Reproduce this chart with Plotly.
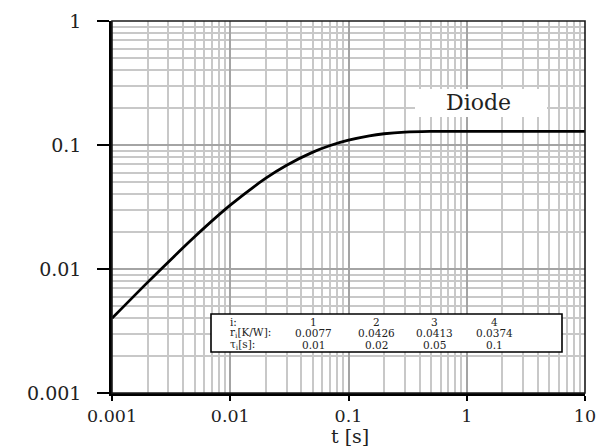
import plotly.graph_objects as go

# Curve
t_vals = [0.001, 0.002, 0.003, 0.005, 0.01, 0.02, 0.03, 0.05, 0.07, 0.1, 0.15, 0.2, 0.3, 0.5, 1, 2, 5, 10]
z_vals = [0.0040, 0.0078, 0.0114, 0.0182, 0.0327, 0.054, 0.0687, 0.0876, 0.099, 0.1093, 0.1186, 0.1232, 0.127, 0.1286, 0.129, 0.129, 0.129, 0.129]

# Table contents
idx = ["1", "2", "3", "4"]
r_vals = ["0.0077", "0.0426", "0.0413", "0.0374"]
tau_vals = ["0.01", "0.02", "0.05", "0.1"]

x_ticks = [0.001, 0.01, 0.1, 1, 10]
x_labels = ["0.001", "0.01", "0.1", "1", "10"]
y_ticks = [0.001, 0.01, 0.1, 1]
y_labels = ["0.001", "0.01", "0.1", "1"]

SERIF = "DejaVu Serif, Liberation Serif, serif"
TXT = "#222"

fig = go.Figure()
fig.add_trace(go.Scatter(x=t_vals, y=z_vals, mode="lines",
                         line=dict(color="black", width=2.8, shape="spline"),
                         showlegend=False, hoverinfo="skip"))

def axis_common(ticklen, fsize):
    return dict(
        type="log", showline=True, linecolor="black", linewidth=2.5, mirror=False,
        ticks="outside", ticklen=ticklen, tickwidth=2, tickcolor="black",
        showgrid=True, gridcolor="#a4a4a4", gridwidth=1.6,
        minor=dict(showgrid=True, gridcolor="#c8c8c8", gridwidth=1.5, ticks="",
                   dtick="D1", tickmode="linear"),
        tickfont=dict(family=SERIF, size=fsize, color=TXT),
        zeroline=False, automargin=False,
    )

# Page has an 8px body margin; the figure is sized so that the plot area lands
# at x 112..585, y 21..393 of the 607x448 window.
fig.update_layout(
    width=599, height=440,
    margin=dict(l=104, r=22, t=13, b=55),
    paper_bgcolor="white", plot_bgcolor="white",
    xaxis=dict(range=[-3, 1], tickmode="array", tickvals=x_ticks, ticktext=x_labels,
               **axis_common(5, 17.5)),
    yaxis=dict(range=[-3, 0], tickmode="array", tickvals=y_ticks, ticktext=y_labels,
               ticklabelstandoff=12, **axis_common(12, 19)),
)

def px(x):
    return (x - 112) / 473

def py(y):
    return (393 - y) / 372

shapes = [
    dict(type="rect", xref="paper", yref="paper", x0=0, x1=1, y0=0, y1=1,
         line=dict(color="#1a1a1a", width=1.6), layer="above"),
    dict(type="rect", xref="paper", yref="paper", x0=px(415), x1=px(547), y0=py(117), y1=py(89),
         fillcolor="white", line=dict(width=0), layer="above"),
    dict(type="rect", xref="paper", yref="paper", x0=px(211), x1=px(562), y0=py(352), y1=py(314),
         fillcolor="white", line=dict(color="black", width=1.6), layer="above"),
]
fig.update_layout(shapes=shapes)

ann = []
ann.append(dict(text="t [s]", x=px(350), y=py(436), xref="paper", yref="paper", showarrow=False,
                font=dict(family=SERIF, size=19, color=TXT), xanchor="center", yanchor="middle"))
ann.append(dict(text="Diode", x=px(478), y=py(102), xref="paper", yref="paper", showarrow=False,
                font=dict(family=SERIF, size=22, color=TXT), xanchor="center", yanchor="middle"))

row_y = [py(321.5), py(333), py(344.5)]
labels = ["i:", "r<sub>i</sub>[K/W]:", "τ<sub>i</sub>[s]:"]
for lab, yy in zip(labels, row_y):
    ann.append(dict(text=lab, x=px(228), y=yy, xref="paper", yref="paper", showarrow=False,
                    font=dict(family=SERIF, size=10.5, color=TXT), xanchor="left", yanchor="middle"))
col_x = [px(313), px(376), px(434), px(494)]
for cx, i_, r_, t_ in zip(col_x, idx, r_vals, tau_vals):
    for txt, yy in zip([i_, r_, t_], row_y):
        ann.append(dict(text=txt, x=cx, y=yy, xref="paper", yref="paper", showarrow=False,
                        font=dict(family=SERIF, size=10.5, color=TXT), xanchor="center", yanchor="middle"))
fig.update_layout(annotations=ann)

fig.write_html("out.html")
